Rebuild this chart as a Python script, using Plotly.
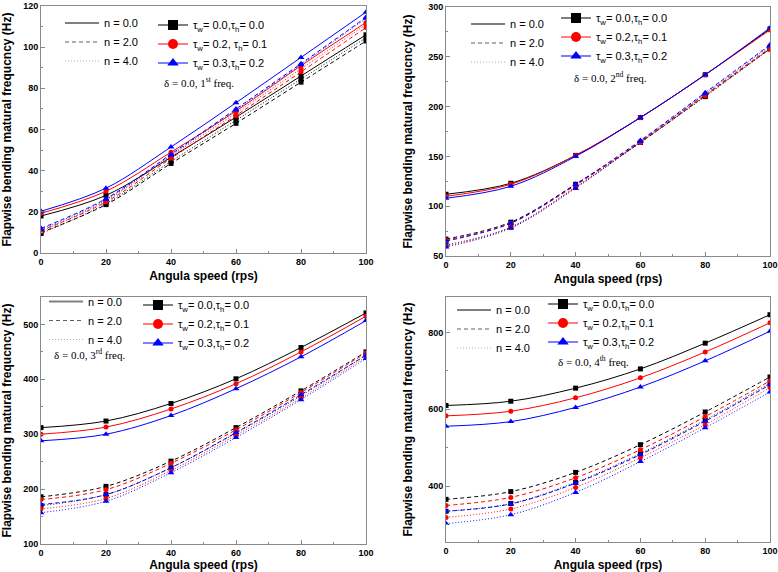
import plotly.graph_objects as go

W, H = 778, 572

speed = [0, 20, 40, 60, 80, 100]

# 1st freq  (a: tw=0.0,th=0.0  b: tw=0.2,th=0.1  c: tw=0.3,th=0.2)
f1_a_n0 = [18.0, 28.0, 46.5, 66.0, 86.0, 106.0]
f1_a_n2 = [10.0, 23.5, 43.5, 63.0, 83.0, 103.0]
f1_a_n4 = [9.5, 24.0, 44.5, 64.5, 84.5, 104.5]
f1_b_n0 = [19.3, 30.0, 49.0, 69.0, 91.0, 112.0]
f1_b_n2 = [11.0, 24.8, 46.0, 66.8, 88.0, 109.5]
f1_b_n4 = [10.5, 25.5, 47.0, 68.0, 89.5, 111.0]
f1_c_n0 = [20.3, 31.5, 51.5, 73.0, 95.0, 117.0]
f1_c_n2 = [12.0, 26.4, 48.0, 70.0, 92.0, 114.5]
f1_c_n4 = [11.5, 26.0, 47.5, 69.5, 91.5, 114.0]

# 2nd freq
f2_a_n0 = [112, 123, 151, 189, 232, 278]
f2_a_n2 = [67, 84, 122, 164, 211, 258]
f2_a_n4 = [61, 79, 119, 164, 210, 258]
f2_b_n0 = [110, 122, 151, 189, 232, 277]
f2_b_n2 = [66, 83, 121, 165, 212, 259]
f2_b_n4 = [60, 78.5, 119, 164, 211, 258]
f2_c_n0 = [108, 120, 150, 189, 232, 279]
f2_c_n2 = [65, 83, 122, 166, 214, 262]
f2_c_n4 = [59, 78, 118, 165, 213, 261]

# 3rd freq
f3_a_n0 = [312, 324, 356, 401, 458, 521]
f3_a_n2 = [186, 205, 251, 312, 379, 450]
f3_a_n4 = [170, 190, 239, 302, 370, 444]
f3_b_n0 = [300, 313, 346, 392, 450, 515]
f3_b_n2 = [181, 199, 247, 308, 376, 448]
f3_b_n4 = [164, 183, 234, 298, 366, 441]
f3_c_n0 = [288, 300, 334, 383, 441, 507]
f3_c_n2 = [172, 190, 239, 303, 372, 444]
f3_c_n4 = [157, 178, 230, 294, 363, 438]

# 4th freq
f4_a_n0 = [610, 621, 655, 705, 772, 846]
f4_a_n2 = [366, 386, 436, 508, 593, 684]
f4_a_n4 = [335, 355, 410, 485, 572, 668]
f4_b_n0 = [583, 595, 630, 682, 749, 825]
f4_b_n2 = [350, 371, 422, 495, 581, 674]
f4_b_n4 = [319, 341, 397, 474, 560, 657]
f4_c_n0 = [556, 568, 605, 658, 726, 803]
f4_c_n2 = [335, 354, 408, 482, 569, 664]
f4_c_n4 = [303, 326, 384, 464, 552, 645]

n_labels = ["n = 0.0", "n = 2.0", "n = 4.0"]
tau_labels = ["τ<sub>w</sub>= 0.0,τ<sub>h</sub>= 0.0",
              "τ<sub>w</sub>= 0.2,τ<sub>h</sub>= 0.1",
              "τ<sub>w</sub>= 0.3,τ<sub>h</sub>= 0.2"]
tau_labels_first = ["τ<sub>w</sub>= 0.0,τ<sub>h</sub>= 0.0",
                    "τ<sub>w</sub>= 0.2, τ<sub>h</sub>= 0.1",
                    "τ<sub>w</sub>= 0.3,τ<sub>h</sub>= 0.2"]
notes = ["δ = 0.0, 1<sup>st</sup> freq.", "δ = 0.0, 2<sup>nd</sup> freq.",
         "δ = 0.0, 3<sup>rd</sup> freq.", "δ = 0.0, 4<sup>th</sup> freq."]

colors = ["#000000", "#ff0000", "#0000ff"]
symbols = ["square", "circle", "triangle-up"]
dashes = ["solid", "4px,3px", "1px,2px"]
n_legend_colors = ["#808080", "#606060", "#b0b0b0"]

FONT = "Liberation Sans"


def fx(p):
    return p / W


def fy(p):
    return 1 - p / H


panels = [
    dict(series=[[f1_a_n0, f1_a_n2, f1_a_n4], [f1_b_n0, f1_b_n2, f1_b_n4], [f1_c_n0, f1_c_n2, f1_c_n4]],
         xdom=(41, 366), ydom=(6, 253), yrange=[0, 120], dtick=20, minor=10,
         tau=tau_labels_first, nleg=(60, 8.5), tleg=(153, 10.5), note=(162, 82)),
    dict(series=[[f2_a_n0, f2_a_n2, f2_a_n4], [f2_b_n0, f2_b_n2, f2_b_n4], [f2_c_n0, f2_c_n2, f2_c_n4]],
         xdom=(446, 770), ydom=(7, 256), yrange=[50, 300], dtick=50, minor=25,
         tau=tau_labels, nleg=(466, 9.5), tleg=(556, 3.5), note=(572, 77)),
    dict(series=[[f3_a_n0, f3_a_n2, f3_a_n4], [f3_b_n0, f3_b_n2, f3_b_n4], [f3_c_n0, f3_c_n2, f3_c_n4]],
         xdom=(41, 366), ydom=(297, 544), yrange=[100, 550], dtick=100, minor=50,
         tau=tau_labels, nleg=(44, 287), tleg=(138, 290.5), note=(52, 354)),
    dict(series=[[f4_a_n0, f4_a_n2, f4_a_n4], [f4_b_n0, f4_b_n2, f4_b_n4], [f4_c_n0, f4_c_n2, f4_c_n4]],
         xdom=(446, 770), ydom=(297, 542), yrange=[255, 892], dtick=200, minor=100,
         tau=tau_labels, nleg=(452, 295.5), tleg=(543, 289.5), note=(556, 361)),
]

fig = go.Figure()
layout = {}
annotations = []

for i, p in enumerate(panels):
    k = i + 1
    suffix = "" if k == 1 else str(k)
    xa, ya = "x" + suffix, "y" + suffix
    n_leg = "legend" if k == 1 else "legend" + str(2 * k - 1)
    t_leg = "legend" + str(2 * k)

    for c, group in enumerate(p["series"]):
        for d, vals in enumerate(group):
            fig.add_trace(go.Scatter(
                x=speed, y=vals, xaxis=xa, yaxis=ya,
                mode="lines+markers", showlegend=False,
                line=dict(color=colors[c], width=1, dash=dashes[d], shape="spline", smoothing=1),
                marker=dict(symbol=symbols[c], size=5 if c < 2 else 6, color=colors[c]),
            ))

    # legend entries
    for d in range(3):
        fig.add_trace(go.Scatter(
            x=[None], y=[None], xaxis=xa, yaxis=ya, mode="lines",
            name=n_labels[d], legend=n_leg,
            line=dict(color=n_legend_colors[d], width=2 if d == 0 else 1, dash=dashes[d]),
        ))
    for c in range(3):
        fig.add_trace(go.Scatter(
            x=[None], y=[None], xaxis=xa, yaxis=ya, mode="lines+markers",
            name=p["tau"][c], legend=t_leg,
            line=dict(color=colors[c], width=1),
            marker=dict(symbol=symbols[c], size=10, color=colors[c]),
        ))

    leg_common = dict(bgcolor="rgba(0,0,0,0)", borderwidth=0, xanchor="left", yanchor="top",
                      font=dict(family=FONT, size=11, color="black"), tracegroupgap=0)
    layout[n_leg] = dict(x=fx(p["nleg"][0]), y=fy(p["nleg"][1]), itemwidth=34, **leg_common)
    layout[t_leg] = dict(x=fx(p["tleg"][0]), y=fy(p["tleg"][1]), **leg_common)

    axis_common = dict(showline=True, linecolor="#8a8a8a", linewidth=1, mirror=True,
                       ticks="inside", ticklen=4, tickcolor="#8a8a8a", showgrid=False,
                       zeroline=False, automargin=False, ticklabeloverflow="allow",
                       tickfont=dict(family=FONT, size=9, color="black", weight="bold"))
    layout["xaxis" + suffix] = dict(
        domain=[fx(p["xdom"][0]), fx(p["xdom"][1])], anchor=ya, range=[0, 100],
        dtick=20, minor=dict(dtick=10, ticks="inside", ticklen=2, tickcolor="#8a8a8a"),
        title=dict(text="Angula speed (rps)", standoff=5,
                   font=dict(family=FONT, size=12, color="black", weight="bold")),
        **axis_common)
    layout["yaxis" + suffix] = dict(
        domain=[fy(p["ydom"][1]), fy(p["ydom"][0])], anchor=xa, range=p["yrange"],
        dtick=p["dtick"], tick0=0,
        minor=dict(dtick=p["minor"], ticks="inside", ticklen=2, tickcolor="#8a8a8a"),
        title=dict(text="Flapwise bending matural frequcncy (Hz)", standoff=12,
                   font=dict(family=FONT, size=12, color="black", weight="bold")),
        **axis_common)

    annotations.append(dict(
        text=notes[i], xref="paper", yref="paper", x=fx(p["note"][0]), y=fy(p["note"][1]),
        xanchor="left", yanchor="middle", showarrow=False,
        font=dict(family="Liberation Serif", size=11, color="black")))

fig.update_layout(**layout)
fig.update_layout(
    width=W, height=H,
    margin=dict(l=0, r=0, t=0, b=0),
    paper_bgcolor="white", plot_bgcolor="white",
    annotations=annotations,
)

# drop the browser's default 8px body margin so the figure fills the window
fig.write_html("out.html", config={"displayModeBar": False},
               post_script="document.body.style.margin = '0';")
